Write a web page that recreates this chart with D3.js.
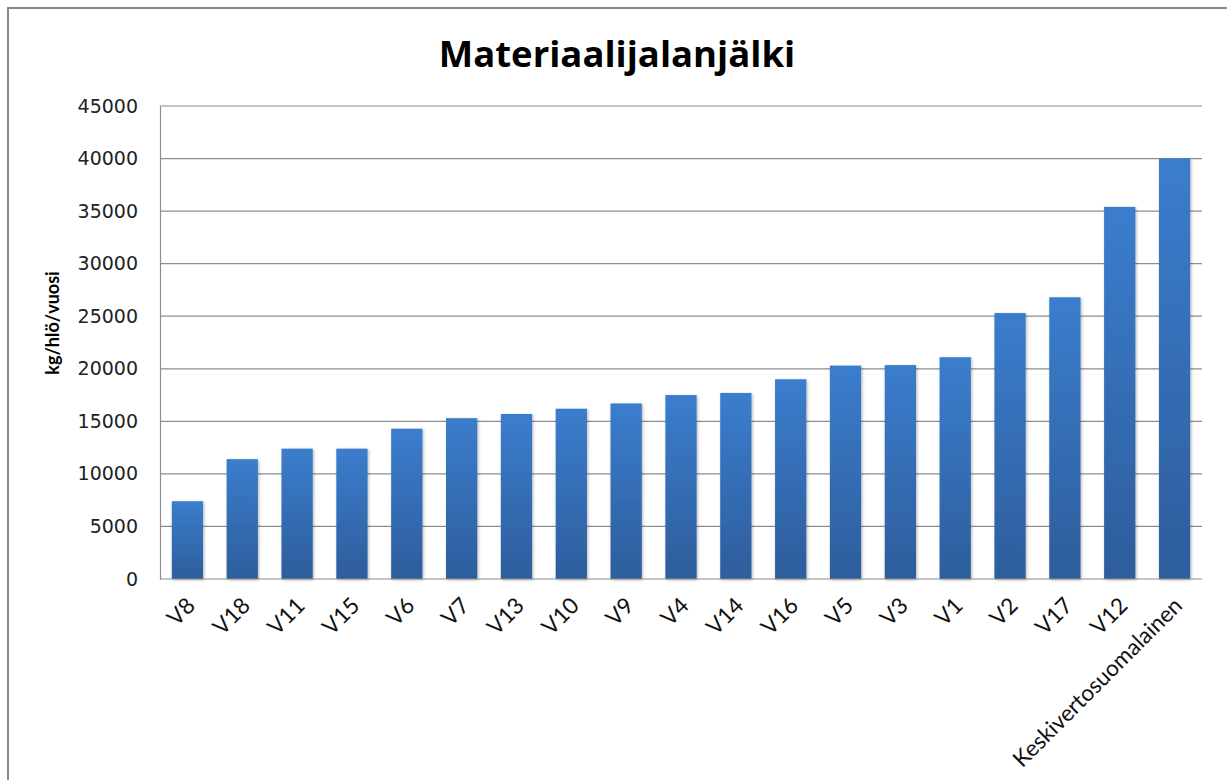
<!DOCTYPE html>
<html>
<head>
<meta charset="utf-8">
<script src="https://cdn.jsdelivr.net/npm/d3@7"></script>
<style>
    body { margin: 0; background: #fff; }
    svg { display: block; }
</style>
</head>
<body>
<div id="chart"></div>
<script>
// Data
const categories = ['V8', 'V18', 'V11', 'V15', 'V6', 'V7', 'V13', 'V10', 'V9', 'V4',
    'V14', 'V16', 'V5', 'V3', 'V1', 'V2', 'V17', 'V12', 'Keskivertosuomalainen'];
const values = [7400, 11400, 12400, 12400, 14300, 15300, 15700, 16200, 16700, 17500,
    17700, 19000, 20300, 20350, 21100, 25300, 26800, 35400, 40000];
const yTicks = [0, 5000, 10000, 15000, 20000, 25000, 30000, 35000, 40000, 45000];
const title = 'Materiaalijalanjälki';
const yTitle = 'kg/hlö/vuosi';

const W = 1227, H = 780;
const margin = {top: 106, right: 25, bottom: 201, left: 160};
const width = W - margin.left - margin.right;
const height = H - margin.top - margin.bottom;

const svg = d3.select('#chart').append('svg')
    .attr('width', W)
    .attr('height', H);

// bar gradient + soft shadow
const defs = svg.append('defs');
const grad = defs.append('linearGradient')
    .attr('id', 'barGrad')
    .attr('x1', 0).attr('y1', 0).attr('x2', 0).attr('y2', 1);
grad.append('stop').attr('offset', '0%').attr('stop-color', '#3b7dcd');
grad.append('stop').attr('offset', '100%').attr('stop-color', '#2d5d9c');

const shadow = defs.append('filter').attr('id', 'shadow')
    .attr('x', '-20%').attr('y', '-5%').attr('width', '140%').attr('height', '110%');
shadow.append('feDropShadow')
    .attr('dx', 1).attr('dy', 1).attr('stdDeviation', 1.5)
    .attr('flood-color', '#000').attr('flood-opacity', 0.3);

// outer frame
svg.append('rect')
    .attr('x', 8).attr('y', 8)
    .attr('width', W + 20).attr('height', H + 20)
    .attr('fill', 'none')
    .attr('stroke', '#888')
    .attr('stroke-width', 2);

const g = svg.append('g')
    .attr('transform', `translate(${margin.left},${margin.top})`);

const x = d3.scaleBand()
    .domain(categories)
    .range([0, width])
    .paddingInner(0.43)
    .paddingOuter(0.215);

const y = d3.scaleLinear()
    .domain([0, 45000])
    .range([height, 0]);

// gridlines
g.append('g')
    .selectAll('line')
    .data(yTicks.filter(d => d > 0))
    .enter().append('line')
    .attr('x1', 0)
    .attr('x2', width)
    .attr('y1', d => y(d))
    .attr('y2', d => y(d))
    .attr('stroke', '#8c8c8c')
    .attr('stroke-width', 1.2);

// y axis
const yAxis = g.append('g')
    .call(d3.axisLeft(y).tickValues(yTicks).tickSize(0).tickPadding(22).tickFormat(d3.format('d')));
yAxis.select('.domain').attr('stroke', '#8c8c8c').attr('stroke-width', 1.2);
yAxis.selectAll('text')
    .style('font-family', 'DejaVu Sans')
    .style('font-size', '19px')
    .attr('fill', '#222');

// bars
g.selectAll('.bar')
    .data(values)
    .enter().append('rect')
    .attr('class', 'bar')
    .attr('x', (d, i) => x(categories[i]))
    .attr('y', d => y(d))
    .attr('width', x.bandwidth())
    .attr('height', d => height - y(d))
    .attr('fill', 'url(#barGrad)')
    .attr('filter', 'url(#shadow)');

// x axis baseline
g.append('line')
    .attr('x1', 0).attr('x2', width)
    .attr('y1', height).attr('y2', height)
    .attr('stroke', '#8c8c8c')
    .attr('stroke-width', 1.2);

// x labels, rotated
g.append('g')
    .selectAll('text')
    .data(categories)
    .enter().append('text')
    .attr('transform', d => `translate(${x(d) + x.bandwidth() / 2 - 2},${height + 17}) rotate(-45)`)
    .attr('text-anchor', 'end')
    .attr('dy', '0.7em')
    .style('font-family', 'Lato')
    .style('font-size', '22.5px')
    .attr('fill', '#111')
    .text(d => d);

// title
svg.append('text')
    .attr('x', 617)
    .attr('y', 67)
    .attr('text-anchor', 'middle')
    .style('font-family', 'Open Sans')
    .style('font-weight', 'bold')
    .style('font-size', '36.5px')
    .attr('fill', '#000')
    .text(title);

// y axis title
svg.append('text')
    .attr('transform', 'translate(59,323) rotate(-90)')
    .attr('text-anchor', 'middle')
    .style('font-family', 'Lato')
    .style('font-weight', 'bold')
    .style('font-size', '18px')
    .attr('fill', '#000')
    .text(yTitle);
</script>
</body>
</html>
